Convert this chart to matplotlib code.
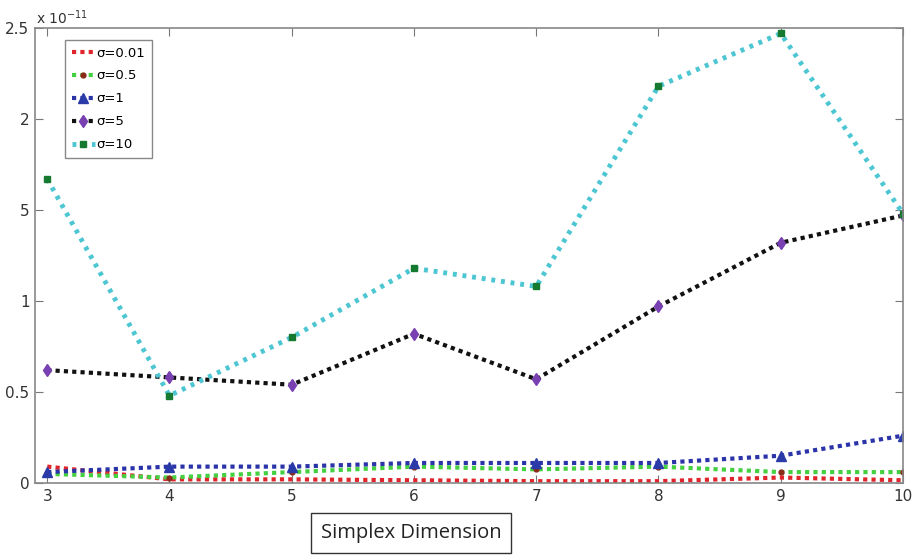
import matplotlib
matplotlib.use("Agg")
import matplotlib.pyplot as plt

dims = [3, 4, 5, 6, 7, 8, 9, 10]
# values in units of 1e-11
s001 = [0.09, 0.02, 0.02, 0.015, 0.01, 0.01, 0.03, 0.015]
s05 = [0.05, 0.03, 0.06, 0.09, 0.075, 0.09, 0.06, 0.06]
s1 = [0.06, 0.09, 0.09, 0.11, 0.11, 0.11, 0.15, 0.26]
s5 = [0.62, 0.58, 0.54, 0.82, 0.57, 0.97, 1.32, 1.47]
s10 = [1.67, 0.48, 0.80, 1.18, 1.08, 2.18, 2.47, 1.48]
labels = ["σ=0.01", "σ=0.5", "σ=1", "σ=5", "σ=10"]
yticks = [0, 0.5, 1, 1.5, 2, 2.5]
yticklabels = ["0", "0.5", "1", "5", "2", "2.5"]
xlabel = "Simplex Dimension"

fig = plt.figure(figsize=(9.17, 5.6), dpi=100)
ax = fig.add_axes([35/917, 1-483/560, (903-35)/917, (483-28)/560])

ax.plot(dims, s001, color="#e0242c", lw=3, ls=(0, (1, 1)), label=labels[0])
ax.plot(dims, s05, color="#44d040", lw=3, ls=(0, (1, 1)), marker="o", ms=3.5,
        mfc="#8a2a18", mec="#8a2a18", label=labels[1])
ax.plot(dims, s1, color="#2a34a8", lw=3, ls=(0, (1, 1)), marker="^", ms=7,
        mfc="#2a3aa8", mec="#2a3aa8", label=labels[2])
ax.plot(dims, s5, color="#111111", lw=3, ls=(0, (1, 1)), marker="d", ms=6.5,
        mfc="#7840b0", mec="#7840b0", label=labels[3])
ax.plot(dims, s10, color="#4cc6d2", lw=3.5, ls=(0, (0.8, 1.2)), marker="s", ms=5,
        mfc="#157a30", mec="#157a30", label=labels[4])

ax.set_xlim(2.9, 10)
ax.set_ylim(0, 2.5)
ax.set_xticks(dims)
ax.set_xticklabels([str(d) for d in dims])
ax.set_yticks(yticks)
ax.set_yticklabels(yticklabels)
ax.tick_params(direction="in", top=True, right=True, length=6, color="#777777",
               labelsize=11, labelcolor="#333333", pad=4)
for sp in ax.spines.values():
    sp.set_color("#888888")
    sp.set_linewidth(1.2)

fig.text(36/917, 1-18/560, r"x 10$^{-11}$", fontsize=10, color="#333333", va="center")

leg = ax.legend(loc="upper left", bbox_to_anchor=(30/868, 1-12/455), borderaxespad=0,
                fontsize=9.5, handlelength=1.8, handletextpad=0.1, borderpad=0.5,
                labelspacing=0.75, fancybox=False, edgecolor="#888888", framealpha=1)
leg.get_frame().set_linewidth(1.0)

fig.text(411/917, 1-533/560, xlabel, fontsize=14.5, ha="center", va="center",
         family="Open Sans", color="#222222",
         bbox=dict(boxstyle="square,pad=0.5", fc="white", ec="#333333", lw=1))

fig.savefig("out.png", dpi=100)
